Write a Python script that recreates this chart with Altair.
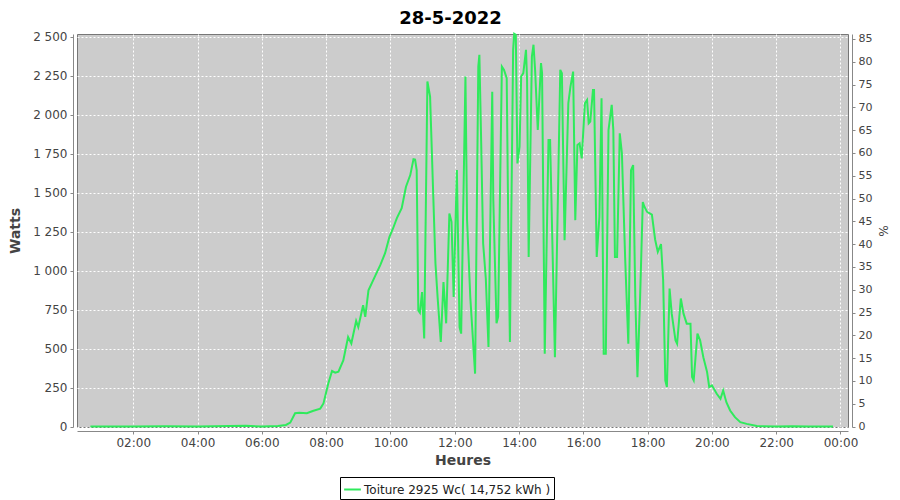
import altair as alt
import pandas as pd

TITLE = "28-5-2022"
SERIE = "Toiture 2925 Wc( 14,752 kWh )"
PEAK_WC = 2925

times = [
    "00:40", "02:00", "03:00", "04:00", "05:00", "05:30", "06:00", "06:30", "06:45", "06:53",
    "07:02", "07:10", "07:24", "07:35", "07:49", "07:55", "08:04", "08:11", "08:17", "08:23",
    "08:32", "08:41", "08:47", "08:56", "09:00", "09:09", "09:13", "09:19", "09:32", "09:41",
    "09:50", "09:58", "10:05", "10:12", "10:21", "10:29", "10:37", "10:43", "10:46", "10:49",
    "10:52", "10:55", "10:59", "11:03", "11:09", "11:14", "11:20", "11:24", "11:28", "11:34",
    "11:39", "11:44", "11:50", "11:54", "11:58", "12:04", "12:09", "12:12", "12:20", "12:23",
    "12:29", "12:38", "12:44", "12:46", "12:49", "12:53", "12:58", "13:03", "13:10", "13:12",
    "13:18", "13:21", "13:28", "13:32", "13:37", "13:40", "13:43", "13:49", "13:51", "13:54",
    "13:57", "14:01", "14:04", "14:08", "14:13", "14:15", "14:18", "14:24", "14:27", "14:30",
    "14:35", "14:41", "14:43", "14:48", "14:55", "14:58", "15:07", "15:17", "15:20", "15:25",
    "15:32", "15:36", "15:41", "15:45", "15:49", "15:53", "15:57", "16:03", "16:07", "16:10",
    "16:13", "16:18", "16:20", "16:25", "16:30", "16:34", "16:38", "16:42", "16:47", "16:53",
    "16:56", "16:59", "17:03", "17:08", "17:12", "17:18", "17:24", "17:29", "17:33", "17:37",
    "17:41", "17:46", "17:51", "17:54", "17:59", "18:08", "18:14", "18:19", "18:25", "18:29",
    "18:33", "18:36", "18:41", "18:45", "18:52", "18:55", "19:02", "19:07", "19:13", "19:20",
    "19:23", "19:26", "19:33", "19:38", "19:44", "19:51", "19:55", "20:00", "20:09", "20:16",
    "20:21", "20:27", "20:34", "20:43", "20:53", "21:05", "21:24", "22:00", "22:30", "23:00",
    "23:46",
]
watts = [
    0, 0, 2, 0, 3, 5, 0, 3, 10, 25,
    85, 88, 86, 100, 115, 148, 276, 356, 345, 352,
    424, 574, 533, 677, 638, 778, 703, 874, 970, 1035,
    1112, 1215, 1272, 1337, 1401, 1538, 1613, 1715, 1712, 1645,
    745, 730, 863, 565, 2213, 2116, 1474, 1047, 831, 542,
    927, 662, 1367, 1313, 831, 1645, 638, 596, 2245, 1324,
    831, 339, 2309, 2384, 1883, 1176, 950, 510, 2148, 1452,
    662, 703, 2309, 2288, 2234, 1260, 542, 2416, 2520, 2513,
    1688, 1795, 2245, 2267, 2416, 2224, 1088, 2373, 2449, 2288,
    1902, 2331, 2267, 467, 1838, 1838, 445, 2288, 2267, 1195,
    2074, 2180, 2277, 1324, 1806, 1817, 1720, 2074, 2095, 1945,
    1956, 2159, 2159, 1088, 1345, 2106, 467, 467, 1902, 2063,
    1902, 1088, 1088, 1881, 1753, 1088, 531, 1645, 1677, 831,
    317, 831, 1440, 1410, 1377, 1360, 1200, 1120, 1170, 938,
    296, 253, 885, 724, 553, 531, 821, 724, 660, 660,
    317, 296, 596, 553, 445, 349, 253, 264, 210, 178,
    231, 156, 103, 60, 28, 17, 3, 0, 2, 0,
    0,
]
y_ticks = [0, 250, 500, 750, 1000, 1250, 1500, 1750, 2000, 2250, 2500]
pct_ticks = list(range(0, 90, 5))
x_tick_hours = [2, 4, 6, 8, 10, 12, 14, 16, 18, 20, 22, 24]

df = pd.DataFrame({
    "t": ["2022-05-28T" + t + ":00" for t in times],
    "w": watts,
    "serie": SERIE,
})

GREEN = "#2fea5c"
FONT = "DejaVu Sans"
W_MIN, W_MAX = -3, 2518

def dt(h, m=0):
    if h >= 24:
        return alt.DateTime(year=2022, month=5, date=29, hours=h - 24, minutes=m)
    return alt.DateTime(year=2022, month=5, date=28, hours=h, minutes=m)

x_enc = alt.X(
    "t:T",
    scale=alt.Scale(domain=[dt(0, 15), dt(24, 14)], nice=False),
    axis=alt.Axis(
        title="Heures", format="%H:%M", values=[dt(h) for h in x_tick_hours],
        offset=4, grid=True, gridColor="white", gridDash=[2, 2], gridWidth=1,
        domainColor="#888888", tickColor="#888888", tickSize=3,
        labelFont=FONT, labelFontSize=12, labelColor="#444444", labelPadding=3,
        titleFont=FONT, titleFontSize=14, titleFontWeight="bold", titleColor="#444444",
        titlePadding=5, labelFlush=False, labelOverlap=False,
    ),
)

line = alt.Chart(df).mark_line(strokeWidth=2, interpolate="linear").encode(
    x=x_enc,
    y=alt.Y(
        "w:Q",
        scale=alt.Scale(domain=[W_MIN, W_MAX], nice=False, zero=False),
        axis=alt.Axis(
            title="Watts", values=y_ticks, offset=4, grid=True, gridColor="white",
            gridDash=[2, 2], gridWidth=1, domainColor="#888888", tickColor="#888888",
            tickSize=3, labelFont=FONT, labelFontSize=12, labelColor="#444444",
            labelPadding=3, labelExpr="replace(format(datum.value, ','), ',', ' ')",
            titleFont=FONT, titleFontSize=14, titleFontWeight="bold",
            titleColor="#444444", titlePadding=10,
        ),
    ),
    color=alt.Color(
        "serie:N",
        scale=alt.Scale(domain=[SERIE], range=[GREEN]),
        legend=alt.Legend(
            title=None, orient="none", legendX=263, legendY=443,
            strokeColor="black", fillColor="white", padding=3, cornerRadius=0,
            symbolType="stroke", symbolSize=280, symbolStrokeWidth=2,
            labelFont=FONT, labelFontSize=12, labelColor="#222222", labelOffset=2,
            labelLimit=400,
        ),
    ),
)

pct_layer = alt.Chart(df).transform_calculate(
    pct=f"datum.w / {PEAK_WC} * 100"
).mark_line(opacity=0).encode(
    x=alt.X("t:T"),
    y=alt.Y(
        "pct:Q",
        scale=alt.Scale(domain=[W_MIN / PEAK_WC * 100, W_MAX / PEAK_WC * 100], nice=False, zero=False),
        axis=alt.Axis(
            title="%", orient="right", values=pct_ticks, offset=4, grid=False,
            domainColor="#888888", tickColor="#888888", tickSize=3,
            labelFont=FONT, labelFontSize=11, labelColor="#444444", labelPadding=3,
            titleFont=FONT, titleFontSize=12, titleFontWeight="normal",
            titleColor="#444444", titlePadding=4,
        ),
    ),
)

chart = alt.layer(line, pct_layer).resolve_scale(y="independent").properties(
    width=771,
    height=393,
    padding={"left": 69, "top": 26, "right": 44, "bottom": 73},
    autosize=alt.AutoSizeParams(type="none"),
    background="white",
    title=alt.TitleParams(
        TITLE, font=FONT, fontSize=18, fontWeight="bold", color="black",
        anchor="middle", dx=-12, offset=2,
    ),
).configure_view(
    fill="#cccccc", stroke="#777777", strokeWidth=1,
)

chart.save("out.html", embed_options={"renderer": "svg", "actions": False})
